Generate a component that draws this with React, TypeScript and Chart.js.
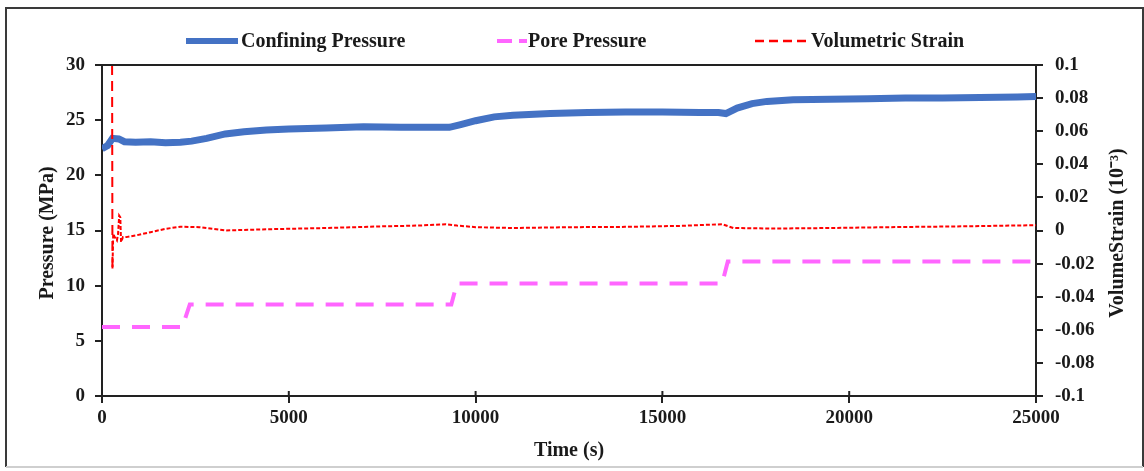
import React, { useEffect, useRef } from "react";
import { Chart, registerables } from "chart.js";

Chart.register(...registerables);

// ---- Data ----
const confTime = [0, 150, 280, 450, 600, 900, 1300, 1700, 2100, 2400, 2800, 3300, 3800, 4400, 5000, 6000, 7000, 8000, 9000, 9300, 9600, 10000, 10500, 11000, 12000, 13000, 14000, 15000, 16000, 16500, 16700, 17000, 17400, 17800, 18500, 19500, 20500, 21500, 22500, 23500, 24500, 25000];
const confPressure = [22.4, 22.7, 23.35, 23.3, 23.05, 23.0, 23.05, 22.95, 23.0, 23.1, 23.35, 23.75, 23.95, 24.1, 24.2, 24.3, 24.4, 24.35, 24.35, 24.35, 24.6, 24.95, 25.3, 25.45, 25.6, 25.7, 25.75, 25.75, 25.7, 25.7, 25.6, 26.1, 26.5, 26.7, 26.85, 26.9, 26.95, 27.0, 27.0, 27.05, 27.1, 27.15];

const poreTime = [0, 2150, 2350, 9350, 9500, 16600, 16750, 25000];
const porePressure = [6.25, 6.25, 8.3, 8.3, 10.2, 10.2, 12.2, 12.2];

const strainTime = [270, 280, 300, 340, 400, 430, 460, 490, 510, 560, 650, 900, 1300, 1700, 2100, 2600, 3300, 4500, 6000, 7500, 8500, 9200, 9500, 10000, 11000, 12500, 14000, 15500, 16600, 16900, 18000, 19500, 21000, 23000, 25000];
const volStrain = [0.1, -0.023, -0.002, -0.004, -0.006, -0.002, 0.009, 0.008, -0.007, -0.004, -0.004, -0.003, -0.001, 0.001, 0.0023, 0.002, 0.0, 0.0008, 0.0015, 0.0025, 0.003, 0.0038, 0.003, 0.002, 0.0015, 0.002, 0.0022, 0.0028, 0.0038, 0.0015, 0.0012, 0.0015, 0.002, 0.0025, 0.0032];
// the first readings (the initial spike) are drawn with long dashes
const spikeCount = 2;

const seriesNames = ["Confining Pressure", "Pore Pressure", "Volumetric Strain"];
const axisTitles = { x: "Time (s)", left: "Pressure (MPa)", right: "VolumeStrain (10\u207B\u00B3)" };

const BLUE = "#4472C4";
const PINK = "#FF66FF";
const RED = "#FF0000";
const INK = "#1a1a1a";
const FONT = "'Liberation Serif', 'Times New Roman', serif";

const toXY = (xs: number[], ys: number[]) => xs.map((x, i) => ({ x, y: ys[i] }));

const decorPlugin = {
  id: "decor",
  afterDraw(chart: any) {
    const ctx = chart.ctx as CanvasRenderingContext2D;
    const area = chart.chartArea;
    ctx.save();
    // outer frame
    ctx.strokeStyle = "#3a3a3a";
    ctx.lineWidth = 2;
    ctx.beginPath();
    ctx.moveTo(6, 467);
    ctx.lineTo(6, 8);
    ctx.lineTo(1143, 8);
    ctx.lineTo(1143, 467);
    ctx.stroke();
    ctx.strokeStyle = "#cfcfcf";
    ctx.beginPath();
    ctx.moveTo(6, 467);
    ctx.lineTo(1143, 467);
    ctx.stroke();
    // plot top border
    ctx.strokeStyle = "#222";
    ctx.lineWidth = 2;
    ctx.beginPath();
    ctx.moveTo(area.left, area.top);
    ctx.lineTo(area.right, area.top);
    ctx.stroke();
    // x tick marks also poke slightly above the axis
    const xs = chart.scales.x;
    ctx.lineWidth = 2;
    xs.ticks.forEach((t: any) => {
      const px = xs.getPixelForValue(t.value);
      ctx.beginPath();
      ctx.moveTo(px, area.bottom);
      ctx.lineTo(px, area.bottom - 5);
      ctx.stroke();
    });

    // legend
    const ly = 41;
    ctx.font = `bold 20px ${FONT}`;
    ctx.fillStyle = INK;
    ctx.textBaseline = "middle";
    ctx.textAlign = "left";
    ctx.lineCap = "butt";
    ctx.strokeStyle = BLUE;
    ctx.lineWidth = 6;
    ctx.setLineDash([]);
    ctx.beginPath();
    ctx.moveTo(186, ly);
    ctx.lineTo(238, ly);
    ctx.stroke();
    ctx.fillText(seriesNames[0], 241, ly + 1);
    ctx.strokeStyle = PINK;
    ctx.lineWidth = 4;
    ctx.setLineDash([15, 7]);
    ctx.beginPath();
    ctx.moveTo(497, ly);
    ctx.lineTo(527, ly);
    ctx.stroke();
    ctx.fillText(seriesNames[1], 528, ly + 1);
    ctx.strokeStyle = RED;
    ctx.lineWidth = 2.5;
    ctx.setLineDash([9, 5]);
    ctx.beginPath();
    ctx.moveTo(755, ly);
    ctx.lineTo(808, ly);
    ctx.stroke();
    ctx.setLineDash([]);
    ctx.fillText(seriesNames[2], 811, ly + 1);

    // axis titles
    ctx.font = `bold 20px ${FONT}`;
    ctx.textAlign = "center";
    ctx.textBaseline = "middle";
    ctx.fillText(axisTitles.x, 569, 451);
    ctx.save();
    ctx.translate(48, 233);
    ctx.rotate(-Math.PI / 2);
    ctx.fillText(axisTitles.left, 0, 0);
    ctx.restore();
    ctx.save();
    ctx.translate(1118, 233);
    ctx.rotate(-Math.PI / 2);
    ctx.fillText(axisTitles.right, 0, 0);
    ctx.restore();
    ctx.restore();
  },
};

export default function App() {
  const ref = useRef<HTMLCanvasElement | null>(null);
  useEffect(() => {
    if (!ref.current) return;
    const tickFont = { family: FONT, size: 19, weight: "bold" as const };
    const strainXY = toXY(strainTime, volStrain);
    const chart = new Chart(ref.current, {
      type: "line",
      data: {
        datasets: [
          {
            label: seriesNames[0],
            data: toXY(confTime, confPressure),
            yAxisID: "y",
            borderColor: BLUE,
            borderWidth: 7,
            pointRadius: 0,
            tension: 0,
            order: 2,
          },
          {
            label: seriesNames[1],
            data: toXY(poreTime, porePressure),
            yAxisID: "y",
            borderColor: PINK,
            borderWidth: 4,
            borderDash: [18, 12],
            pointRadius: 0,
            tension: 0,
            order: 3,
          },
          {
            label: seriesNames[2],
            data: strainXY.slice(spikeCount - 1),
            yAxisID: "y2",
            borderColor: RED,
            borderWidth: 2,
            borderDash: [4, 2],
            pointRadius: 0,
            tension: 0,
            order: 1,
          },
          {
            label: seriesNames[2] + " (initial)",
            data: strainXY.slice(0, spikeCount),
            yAxisID: "y2",
            borderColor: RED,
            borderWidth: 2,
            borderDash: [10, 6],
            pointRadius: 0,
            tension: 0,
            order: 0,
          },
        ],
      },
      options: {
        animation: false,
        responsive: false,
        parsing: false as any,
        layout: { padding: { top: 65, left: 0, right: 0, bottom: 0 } },
        plugins: { legend: { display: false }, tooltip: { enabled: false } },
        scales: {
          x: {
            type: "linear",
            min: 0,
            max: 25000,
            afterFit: (s: any) => { s.height = 75; },
            ticks: {
              stepSize: 5000,
              font: tickFont,
              color: INK,
              padding: 4,
              maxRotation: 0,
              callback: (v: any) => String(v),
            },
            grid: { display: true, drawOnChartArea: false, drawTicks: true, tickLength: 7, color: "#222", lineWidth: 2 },
            border: { display: true, color: "#222", width: 2 },
          },
          y: {
            type: "linear",
            position: "left",
            min: 0,
            max: 30,
            afterFit: (s: any) => { s.width = 102; },
            ticks: { stepSize: 5, font: tickFont, color: INK, padding: 10 },
            grid: { display: true, drawOnChartArea: false, drawTicks: true, tickLength: 7, color: "#222", lineWidth: 2 },
            border: { display: true, color: "#222", width: 2 },
          },
          y2: {
            type: "linear",
            position: "right",
            min: -0.1,
            max: 0.1,
            afterFit: (s: any) => { s.width = 108; },
            ticks: {
              stepSize: 0.02,
              font: tickFont,
              color: INK,
              padding: 12,
              callback: (v: any) => String(Number(Number(v).toFixed(2))),
            },
            grid: { display: true, drawOnChartArea: false, drawTicks: true, tickLength: 7, color: "#222", lineWidth: 2 },
            border: { display: true, color: "#222", width: 2 },
          },
        },
      },
      plugins: [decorPlugin],
    });
    return () => chart.destroy();
  }, []);
  return (
    <div style={{ position: "absolute", left: 0, top: 0, width: 1144, height: 471, background: "#fff" }}>
      <canvas ref={ref} width={1144} height={471} style={{ display: "block" }} />
    </div>
  );
}
